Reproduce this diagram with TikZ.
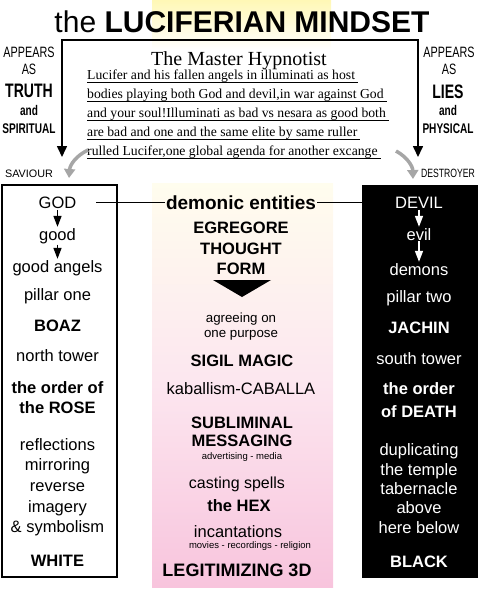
\documentclass[tikz,border=0pt]{standalone}
\usepackage{fontspec}
\setmainfont{Liberation Sans}
\newfontfamily\hypnofont{Liberation Serif}
\newfontfamily\narrowfont[FakeStretch=0.72]{Liberation Sans}
\usetikzlibrary{arrows.meta}

\definecolor{glow}{RGB}{255,248,182}
\definecolor{cream}{RGB}{255,253,238}
\definecolor{blush}{RGB}{252,230,239}
\definecolor{rosepink}{RGB}{248,196,221}

\begin{document}
\begin{tikzpicture}[x=1pt, y=-1pt,
  every node/.style={inner sep=1pt, anchor=base},
  colitem/.style={font=\fontsize{16.5}{18}\selectfont},
  colbold/.style={font=\fontsize{16.5}{18}\selectfont\bfseries},
  colsmall/.style={font=\fontsize{9.5}{10}\selectfont},
  sidethin/.style={font=\narrowfont\fontsize{15}{16}\selectfont},
  sidebold/.style={font=\narrowfont\fontsize{14}{16}\selectfont\bfseries},
  sidebig/.style={font=\narrowfont\fontsize{19.5}{20}\selectfont\bfseries},
  hypnoline/.style={font=\hypnofont\fontsize{13.7}{15}\selectfont, inner sep=0pt, anchor=base west, text depth=3pt},
  stepdown/.style={line width=1.5pt, -{Triangle[length=11pt,width=8pt]}},
  grayarrow/.style={line width=3.5pt, gray!70, -{Triangle[length=9pt,width=11pt]}},
  link/.style={line width=1.1pt}]
  \useasboundingbox (0,0) rectangle (480,590);

  % backgrounds
  \shade[top color=glow, bottom color=white] (152,0) rectangle (331,50);
  \shade[top color=cream, bottom color=rosepink, middle color=blush] (152,183) rectangle (333,587);

  % title and bracket
  \node (title) at (242,32) {\fontsize{30}{32}\selectfont the \textbf{LUCIFERIAN MINDSET}};
  \coordinate (ltip) at (62,157);
  \coordinate (rtip) at (418,157);
  \draw[line width=1.6pt, {Triangle[length=11pt,width=10pt]}-{Triangle[length=11pt,width=10pt]}] (ltip) |- (418,40) -- (rtip);

  % side labels
  \node[sidethin] (lapp) at (29,57) {APPEARS};
  \node[sidethin] (las) at (29,74) {AS};
  \node[sidebig] (truth) at (29,97) {TRUTH};
  \node[sidebold] (land) at (29,115) {and};
  \node[sidebold] (spiritual) at (29,133) {SPIRITUAL};
  \node[font=\fontsize{10.8}{12}\selectfont] (saviour) at (29,177) {SAVIOUR};
  \node[sidethin] (rapp) at (449,57) {APPEARS};
  \node[sidethin] (ras) at (449,74) {AS};
  \node[sidebig] (lies) at (448,98) {LIES};
  \node[sidebold] (rand) at (448,115) {and};
  \node[sidebold] (physical) at (448,133) {PHYSICAL};
  \node[font=\narrowfont\fontsize{12}{13}\selectfont] (destroyer) at (448,177) {DESTROYER};

  % the master hypnotist
  \node[font=\hypnofont\fontsize{20}{22}\selectfont] (master) at (239,65) {The Master Hypnotist};
  \foreach \t [count=\i] in {{Lucifer and his fallen angels in illuminati as host},
      {bodies playing both God and devil,in war against God},
      {and your soul!Illuminati as bad vs nesara as good both},
      {are bad and one and the same elite by same ruller},
      {rulled Lucifer,one global agenda for another excange}}{
    \node[hypnoline] (line\i) at (87,{60+19*\i}) {\t};
    \draw[line width=1pt] (line\i.south west) -- ([xshift=3pt]line\i.south east);
  }
  \coordinate (lcurl) at (88,150);
  \coordinate (lcurlend) at (69,178);
  \coordinate (rcurl) at (396,151);
  \coordinate (rcurlend) at (413,179);
  \draw[grayarrow] (lcurl) to[bend right=30] (lcurlend);
  \draw[grayarrow] (rcurl) to[bend left=30] (rcurlend);

  % the two pillars
  \draw[line width=1.3pt] (2,185) rectangle (117,577);
  \fill[black] (362,185) rectangle (478,578);

  \foreach \t/\y [count=\i] in {GOD/208.5, good/240, good angels/272, pillar one/300,
      \textbf{BOAZ}/331, north tower/361, \textbf{the order of}/393, \textbf{the ROSE}/413,
      reflections/450, mirroring/470, reverse/491, imagery/512, \& symbolism/532, \textbf{WHITE}/566}
    \node[colitem] (left\i) at (57.5,\y) {\t};
  \foreach \t/\y [count=\i] in {DEVIL/208.5, evil/240, demons/275, pillar two/302,
      \textbf{JACHIN}/333, south tower/364, \textbf{the order}/394, \textbf{of DEATH}/417,
      duplicating/455, the temple/475, tabernacle/494, above/513, here below/533, \textbf{BLACK}/567}
    \node[colitem, text=white] (right\i) at (419,\y) {\t};
  \draw[stepdown] (left1) -- (left2);
  \draw[stepdown] (left2) -- (left3);
  \draw[stepdown, white] (right1) -- (right2);
  \draw[stepdown, white] (right2) -- (right3);

  % middle column
  \node[font=\fontsize{19}{21}\selectfont\bfseries] (demonic) at (241,209) {demonic entities};
  \node[colbold] (egregore) at (241,233) {EGREGORE};
  \node[colbold] (thought) at (241,254) {THOUGHT};
  \node[colbold] (form) at (241,274) {FORM};
  \fill (213,280) -- (271,280) -- (242,297) -- cycle;
  \node[font=\fontsize{13.3}{15}\selectfont] (agree) at (241,322) {agreeing on};
  \node[font=\fontsize{13.3}{15}\selectfont] (purpose) at (241,337.5) {one purpose};
  \node[colbold] (sigil) at (242,366) {SIGIL MAGIC};
  \node[colitem] (kaballism) at (241,394) {kaballism-CABALLA};
  \node[colbold] (subliminal) at (242,428) {SUBLIMINAL};
  \node[colbold] (messaging) at (242,446) {MESSAGING};
  \node[colsmall] (media) at (242,459) {advertising - media};
  \node[font=\fontsize{16}{18}\selectfont] (casting) at (237,488) {casting spells};
  \node[colbold] (hex) at (239,511) {the HEX};
  \node[colitem] (incant) at (238,537) {incantations};
  \node[colsmall] (movies) at (250,548) {movies - recordings - religion};
  \node[font=\fontsize{18}{20}\selectfont\bfseries] (legit) at (237,576.5) {LEGITIMIZING 3D};

  \draw[link, shorten <=19pt] (left1) -- (left1 -| demonic.west);
  \draw[link] (demonic) -- (demonic -| right1.west);
\end{tikzpicture}
\end{document}
